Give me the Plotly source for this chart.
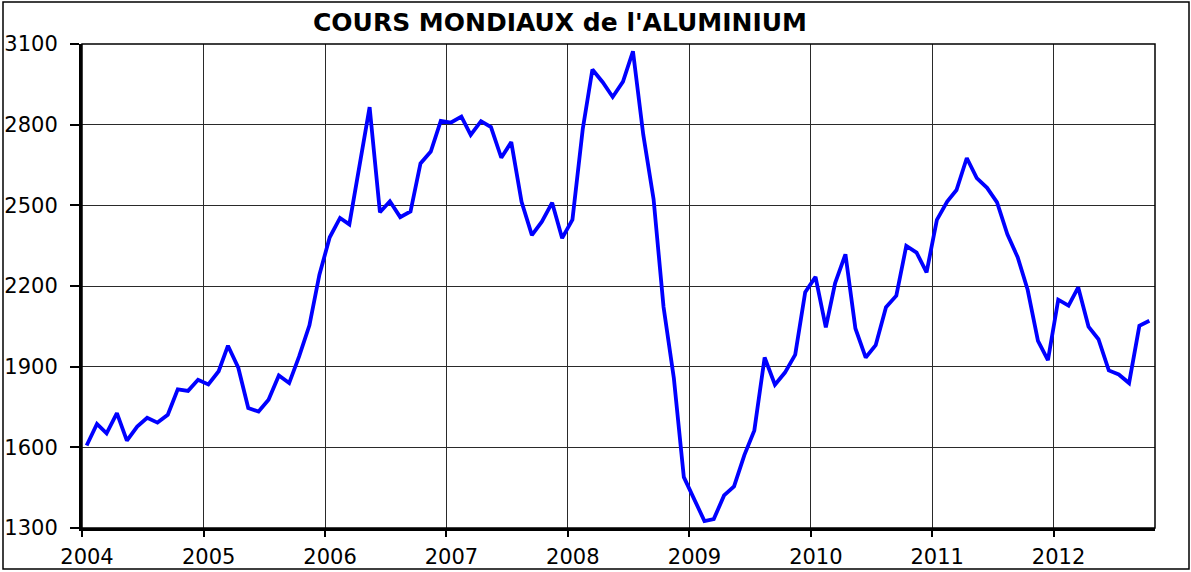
import plotly.graph_objects as go

# Monthly world aluminium prices (USD/t), Jan 2004 - Oct 2012
prices_2004 = [1607, 1687, 1652, 1727, 1625, 1677, 1710, 1692, 1721, 1816, 1810, 1851]
prices_2005 = [1834, 1883, 1978, 1896, 1746, 1733, 1777, 1867, 1839, 1938, 2054, 2242]
prices_2006 = [2381, 2453, 2429, 2646, 2865, 2474, 2515, 2456, 2477, 2656, 2700, 2814]
prices_2007 = [2808, 2830, 2762, 2813, 2791, 2677, 2735, 2513, 2389, 2439, 2510, 2378]
prices_2008 = [2447, 2784, 3005, 2958, 2903, 2960, 3073, 2763, 2523, 2122, 1857, 1489]
prices_2009 = [1410, 1326, 1333, 1421, 1455, 1571, 1663, 1934, 1833, 1878, 1945, 2177]
prices_2010 = [2234, 2046, 2211, 2318, 2042, 1934, 1980, 2121, 2164, 2349, 2324, 2251]
prices_2011 = [2446, 2514, 2557, 2676, 2601, 2565, 2511, 2392, 2307, 2186, 1996, 1924]
prices_2012 = [2149, 2127, 2195, 2049, 2002, 1886, 1871, 1839, 2052, 2071]

years = [2004, 2005, 2006, 2007, 2008, 2009, 2010, 2011, 2012]
yearly = [prices_2004, prices_2005, prices_2006, prices_2007, prices_2008,
          prices_2009, prices_2010, prices_2011, prices_2012]

dates = []
values = []
for yr, vals in zip(years, yearly):
    for m, v in enumerate(vals, start=1):
        dates.append(f"{yr}-{m:02d}-15")
        values.append(v)

title_text = "COURS MONDIAUX de l'ALUMINIUM"
y_ticks = [1300, 1600, 1900, 2200, 2500, 2800, 3100]

W, H = 1191, 572
ML, MR, MT, MB = 82, 36, 44, 44
pw = W - ML - MR
ph = H - MT - MB

def px_x(p):
    return (p - ML) / pw

def px_y(p):
    return (H - MB - p) / ph

fig = go.Figure()
fig.add_trace(go.Scatter(
    x=dates, y=values, mode="lines",
    line=dict(color="#0000FF", width=3.8),
    showlegend=False, hoverinfo="x+y",
))

font_family = "DejaVu Sans, Arial, sans-serif"

fig.update_layout(
    width=W, height=H,
    margin=dict(l=ML, r=MR, t=MT, b=MB, autoexpand=False),
    paper_bgcolor="white", plot_bgcolor="white",
    xaxis=dict(
        type="date", automargin=False,
        range=["2004-01-01", "2012-11-01"],
        tick0="2004-01-01", dtick="M12", tickformat="%Y",
        showgrid=True, gridcolor="#2a2a2a", gridwidth=1,
        showline=True, linecolor="black", linewidth=3,
        ticks="outside", ticklen=6, tickwidth=2, tickcolor="black",
        tickfont=dict(family=font_family, size=21, color="black"),
        ticklabelshift=5, ticklabelstandoff=2,
        zeroline=False,
    ),
    yaxis=dict(
        automargin=False,
        range=[1300, 3100], tickvals=y_ticks,
        showgrid=True, gridcolor="#2a2a2a", gridwidth=1,
        showline=True, linecolor="black", linewidth=3,
        ticks="outside", ticklen=9, tickwidth=2, tickcolor="black",
        tickfont=dict(family=font_family, size=21, color="black"),
        ticklabelstandoff=8,
        zeroline=False,
    ),
    shapes=[
        # plot area frame (thin top/right)
        dict(type="rect", xref="paper", yref="paper", x0=0, x1=1, y0=0, y1=1,
             line=dict(color="black", width=1.5), layer="above"),
        # outer chart frame
        dict(type="rect", xref="paper", yref="paper",
             x0=px_x(3), x1=px_x(1189), y0=px_y(569), y1=px_y(2),
             line=dict(color="black", width=1.5), layer="above"),
    ],
    annotations=[
        dict(text=f"<b>{title_text}</b>", xref="paper", yref="paper",
             x=px_x(560), y=px_y(22), xanchor="center", yanchor="middle",
             showarrow=False,
             font=dict(family=font_family, size=25, color="black")),
    ],
)

fig.write_html(
    "out.html",
    config={"displayModeBar": False},
    post_script="document.body.style.margin='0';document.body.style.overflow='hidden';",
)
